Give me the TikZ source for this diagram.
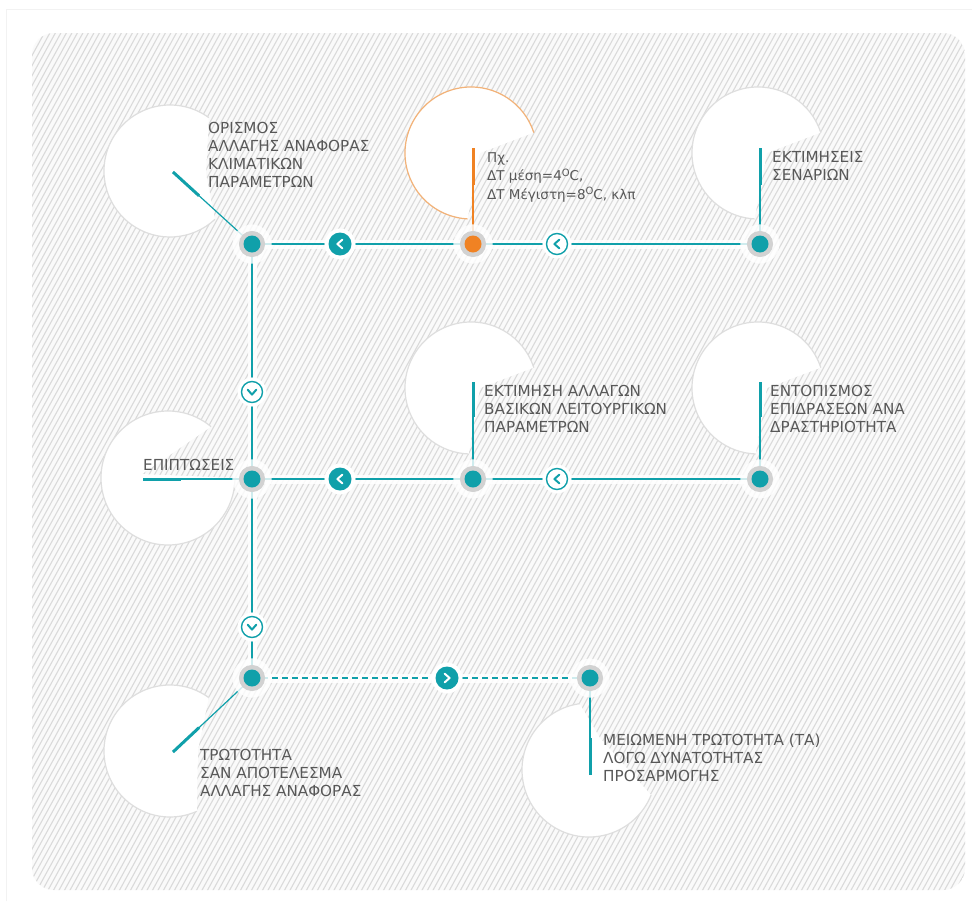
\documentclass[tikz,border=0pt]{standalone}
\usepackage{fontspec}
\setmainfont{DejaVu Sans}
\usetikzlibrary{calc}
\definecolor{tealc}{RGB}{16,160,170}
\definecolor{orangec}{RGB}{240,130,35}
\definecolor{orangel}{RGB}{242,178,120}
\definecolor{txt}{RGB}{88,88,88}
\definecolor{ringc}{RGB}{210,210,210}
\definecolor{bubbleline}{RGB}{222,222,222}
\definecolor{hatchc}{RGB}{218,218,218}
\definecolor{hatchbg}{RGB}{250,250,250}
\newcommand\supO{\raisebox{4.5pt}{\fontsize{10}{10}\selectfont O}}
\newcommand\bub[7]{%
  \fill[white] (#1,#2) ++(-#4:#3) arc[start angle=-#4, end angle=-#5, radius=#3] -- #6 -- cycle;
  \draw[#7, line width=1.2] (#1,#2) ++(-#4:#3) arc[start angle=-#4, end angle=-#5, radius=#3];}
\begin{document}
\begin{tikzpicture}[x=1pt,y=-1pt,
  conn/.style={tealc, line width=1.3},
  halo/.style={white, line width=9, opacity=.85},
  lead/.style={tealc, line width=1.2},
  leadthick/.style={tealc, line width=3},
  hubdot/.style={circle, inner sep=0, minimum size=17, fill=#1,
     preaction={draw=white, opacity=.8, line width=22},
     preaction={draw=ringc, line width=9}},
  chevbase/.style={circle, inner sep=0, preaction={draw=white, line width=8}},
  chevf/.style={chevbase, minimum size=23, fill=tealc},
  chevo/.style={chevbase, minimum size=21, fill=white, draw=tealc, line width=1.4},
  chevline/.style={line width=2, line cap=round, line join=round},
  lbl/.style={anchor=north west, inner sep=0, align=left, text=txt,
     font=\fontsize{15.2}{18}\selectfont}
]
\useasboundingbox (0,0) rectangle (977,905);
\fill[white] (0,0) rectangle (977,905);
\draw[gray!10, line width=1] (6,901) -- (6,9) -- (972,9);
% hatched panel
\begin{scope}
  \clip[rounded corners=22] (32,33) rectangle (965,890);
  \fill[hatchbg] (30,30) rectangle (970,895);
  \foreach \i in {0,...,262} \draw[hatchc, line width=1.1] ({-448+\i*5.5},892) -- ++(472,-862);
\end{scope}
% bubbles
\bub{170}{171}{66}{54}{313}{(206,174)}{bubbleline}
\bub{471}{153}{66}{18}{267}{(480,153)}{orangel}
\bub{758}{153}{66}{18}{267}{(767,153)}{bubbleline}
\bub{168}{478}{67}{50}{360}{(142,474)}{bubbleline}
\bub{471}{388}{66}{18}{268}{(480,388)}{bubbleline}
\bub{758}{388}{66}{18}{268}{(767,388)}{bubbleline}
\bub{170}{751}{66}{54}{294}{(198,750)}{bubbleline}
\bub{589}{770}{67}{98}{338}{(600,738)}{bubbleline}
% hub coordinates
\coordinate (A) at (252,244);
\coordinate (O) at (473,244);
\coordinate (C) at (760,244);
\coordinate (D) at (252,479);
\coordinate (E) at (473,479);
\coordinate (F) at (760,479);
\coordinate (G) at (252,678);
\coordinate (H) at (590,678);
% connector halos
\draw[halo] (C) -- (O) -- (A) -- (D) -- (G) -- (H);
\draw[halo] (F) -- (E) -- (D);
% connectors
\draw[conn] (C) -- (O);
\draw[conn] (O) -- (A);
\draw[conn] (A) -- (D);
\draw[conn] (D) -- (G);
\draw[conn] (F) -- (E);
\draw[conn] (E) -- (D);
\draw[conn, dash pattern=on 6pt off 4pt] (G) -- (H);
% leader ends
\coordinate (Aend) at (173,172);
\coordinate (Oend) at (473,148);
\coordinate (Cend) at (760,148);
\coordinate (Dend) at (143,479);
\coordinate (Eend) at (473,382);
\coordinate (Fend) at (760,382);
\coordinate (Gend) at (173,752);
\coordinate (Hend) at (590,775);
\draw[lead] (A) -- (Aend);
\draw[leadthick] (Aend) -- ($(Aend)!0.33!(A)$);
\draw[lead, orangec] (O) -- (Oend);
\draw[leadthick, orangec] (Oend) -- ($(Oend)!0.385!(O)$);
\draw[lead] (C) -- (Cend);
\draw[leadthick] (Cend) -- ($(Cend)!0.385!(C)$);
\draw[lead] (D) -- (Dend);
\draw[leadthick] (Dend) -- ($(Dend)!0.35!(D)$);
\draw[lead] (E) -- (Eend);
\draw[leadthick] (Eend) -- ($(Eend)!0.36!(E)$);
\draw[lead] (F) -- (Fend);
\draw[leadthick] (Fend) -- ($(Fend)!0.36!(F)$);
\draw[lead] (G) -- (Gend);
\draw[leadthick] (Gend) -- ($(Gend)!0.33!(G)$);
\draw[lead] (H) -- (Hend);
\draw[leadthick] (Hend) -- ($(Hend)!0.38!(H)$);
% hubs
\node[hubdot=tealc] (A-dot) at (A) {};
\node[hubdot=orangec] (O-dot) at (O) {};
\node[hubdot=tealc] (C-dot) at (C) {};
\node[hubdot=tealc] (D-dot) at (D) {};
\node[hubdot=tealc] (E-dot) at (E) {};
\node[hubdot=tealc] (F-dot) at (F) {};
\node[hubdot=tealc] (G-dot) at (G) {};
\node[hubdot=tealc] (H-dot) at (H) {};
% direction icons
\node[chevf] (i1) at (340,244) {};
\node[chevo] (i2) at (557,244) {};
\node[chevf] (i3) at (340,479) {};
\node[chevo] (i4) at (557,479) {};
\node[chevo] (i5) at (252,392) {};
\node[chevo] (i6) at (252,627) {};
\node[chevf] (i7) at (447,678) {};
\draw[chevline, white]  ([shift={(2.3,-4.3)}]i1.center) -- ([shift={(-2.6,0)}]i1.center) -- ([shift={(2.3,4.3)}]i1.center);
\draw[chevline, tealc]  ([shift={(2.3,-4.3)}]i2.center) -- ([shift={(-2.6,0)}]i2.center) -- ([shift={(2.3,4.3)}]i2.center);
\draw[chevline, white]  ([shift={(2.3,-4.3)}]i3.center) -- ([shift={(-2.6,0)}]i3.center) -- ([shift={(2.3,4.3)}]i3.center);
\draw[chevline, tealc]  ([shift={(2.3,-4.3)}]i4.center) -- ([shift={(-2.6,0)}]i4.center) -- ([shift={(2.3,4.3)}]i4.center);
\draw[chevline, tealc]  ([shift={(-4.3,-2.3)}]i5.center) -- ([shift={(0,2.6)}]i5.center) -- ([shift={(4.3,-2.3)}]i5.center);
\draw[chevline, tealc]  ([shift={(-4.3,-2.3)}]i6.center) -- ([shift={(0,2.6)}]i6.center) -- ([shift={(4.3,-2.3)}]i6.center);
\draw[chevline, white]  ([shift={(-2.3,-4.3)}]i7.center) -- ([shift={(2.6,0)}]i7.center) -- ([shift={(-2.3,4.3)}]i7.center);
% labels
\node[lbl] (tA) at (208,122) {ΟΡΙΣΜΟΣ\\ΑΛΛΑΓΗΣ ΑΝΑΦΟΡΑΣ\\ΚΛΙΜΑΤΙΚΩΝ\\ΠΑΡΑΜΕΤΡΩΝ};
\node[lbl, font=\fontsize{13.5}{18.5}\selectfont] (tO) at (487,152) {Πχ.\\ΔΤ μέση=4\supO C,\\ΔΤ Μέγιστη=8\supO C, κλπ};
\node[lbl] (tC) at (772,151) {ΕΚΤΙΜΗΣΕΙΣ\\ΣΕΝΑΡΙΩΝ};
\node[lbl] (tD) at (143,459) {ΕΠΙΠΤΩΣΕΙΣ};
\node[lbl] (tE) at (484,385) {ΕΚΤΙΜΗΣΗ ΑΛΛΑΓΩΝ\\ΒΑΣΙΚΩΝ ΛΕΙΤΟΥΡΓΙΚΩΝ\\ΠΑΡΑΜΕΤΡΩΝ};
\node[lbl] (tF) at (770,385) {ΕΝΤΟΠΙΣΜΟΣ\\ΕΠΙΔΡΑΣΕΩΝ ΑΝΑ\\ΔΡΑΣΤΗΡΙΟΤΗΤΑ};
\node[lbl] (tG) at (200,749) {ΤΡΩΤΟΤΗΤΑ\\ΣΑΝ ΑΠΟΤΕΛΕΣΜΑ\\ΑΛΛΑΓΗΣ ΑΝΑΦΟΡΑΣ};
\node[lbl] (tH) at (603,734) {ΜΕΙΩΜΕΝΗ ΤΡΩΤΟΤΗΤΑ (ΤΑ)\\ΛΟΓΩ ΔΥΝΑΤΟΤΗΤΑΣ\\ΠΡΟΣΑΡΜΟΓΗΣ};
\end{tikzpicture}
\end{document}
